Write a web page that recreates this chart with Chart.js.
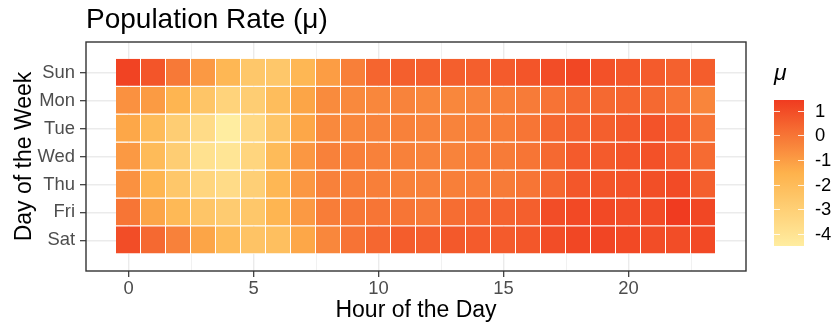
<!DOCTYPE html>
<html>
<head>
<meta charset="utf-8">
<title>Population Rate heatmap</title>
<script src="https://cdn.jsdelivr.net/npm/chart.js@4.4.0/dist/chart.umd.min.js"></script>
<style>
  html, body { margin: 0; padding: 0; background: #ffffff; }
  #wrap { width: 831px; height: 326px; }
</style>
</head>
<body>
<div id="wrap"><canvas id="heat" width="831" height="326"></canvas></div>
<script>
// Days run top to bottom, hours left to right
const days = ['Sun', 'Mon', 'Tue', 'Wed', 'Thu', 'Fri', 'Sat'];
const hours = [0, 1, 2, 3, 4, 5, 6, 7, 8, 9, 10, 11, 12, 13, 14, 15, 16, 17, 18, 19, 20, 21, 22, 23];

// mu per hour, one array per day
const rateSun = [1.25, 0.8, -0.1, -0.9, -1.8, -2.6, -2.6, -1.8, -1.0, -0.25, 0.4, 0.55, 0.55, 0.55, 0.55, 0.65, 0.8, 1.0, 1.15, 0.9, 0.75, 0.65, 0.5, 0.6];
const rateMon = [-0.7, -0.95, -1.7, -2.5, -3.2, -2.9, -2.1, -1.2, -0.55, -0.5, -0.45, -0.35, -0.45, -0.45, -0.35, -0.25, -0.15, 0.05, 0.3, 0.3, 0.4, 0.3, 0.05, -0.4];
const rateTue = [-1.25, -2.0, -2.9, -3.6, -4.5, -3.5, -2.5, -1.25, -0.5, -0.45, -0.35, -0.3, -0.35, -0.35, -0.25, -0.2, 0.0, 0.35, 0.5, 0.55, 0.7, 0.85, 0.65, 0.05];
const rateWed = [-0.9, -2.0, -2.9, -3.9, -4.1, -3.3, -2.0, -0.85, -0.3, -0.25, -0.3, -0.3, -0.35, -0.35, -0.2, -0.15, 0.0, 0.3, 0.65, 0.65, 0.8, 0.9, 0.65, 0.25];
const rateThu = [-0.7, -1.7, -2.6, -3.3, -3.6, -3.0, -1.8, -0.85, -0.3, -0.25, -0.25, -0.3, -0.3, -0.25, -0.2, -0.15, 0.0, 0.35, 0.75, 0.8, 0.85, 0.95, 1.05, 0.55];
const rateFri = [0.0, -1.2, -1.9, -2.5, -2.8, -2.6, -1.7, -0.9, -0.2, -0.05, 0.0, 0.0, -0.1, 0.2, 0.35, 0.45, 0.55, 1.0, 1.1, 1.1, 1.0, 1.05, 1.44, 1.15];
const rateSat = [1.0, 0.3, -0.3, -1.2, -2.0, -2.4, -2.2, -1.25, -0.45, 0.05, 0.35, 0.6, 0.55, 0.7, 0.65, 0.65, 0.75, 1.0, 1.15, 1.2, 1.1, 1.0, 1.0, 1.1];

const rateByDay = [rateSun, rateMon, rateTue, rateWed, rateThu, rateFri, rateSat];

// colour bar labels
const legendTicks = [1, 0, -1, -2, -3, -4];

const allRates = rateByDay.flat();
const rateMin = Math.min(...allRates);
const rateMax = Math.max(...allRates);

const FONT = "'Liberation Sans', Arial, Helvetica, sans-serif";

// light yellow -> orange -> red
const rampStops = [[255, 237, 160], [254, 178, 76], [240, 59, 32]];

function rampColor(t) {
    t = Math.max(0, Math.min(1, t));
    const seg = t < 0.5 ? 0 : 1;
    const f = seg === 0 ? t / 0.5 : (t - 0.5) / 0.5;
    const a = rampStops[seg];
    const b = rampStops[seg + 1];
    const c = a.map((x, i) => Math.round(x + (b[i] - x) * f));
    return `rgb(${c[0]},${c[1]},${c[2]})`;
}

function rateColor(v) {
    return rampColor((v - rateMin) / (rateMax - rateMin));
}

// one dataset per day, each cell is a floating bar one hour wide
const datasets = days.map((day, d) => ({
    label: day,
    data: hours.map(h => ({ x: [h - 0.5, h + 0.5], y: d })),
    backgroundColor: rateByDay[d].map(rateColor),
    borderColor: '#ffffff',
    borderWidth: { top: 0, left: 0, right: 1, bottom: 1 },
    borderSkipped: false,
    inflateAmount: 0,
    grouped: false,
    barPercentage: 1,
    categoryPercentage: 1
}));

// panel frame, titles and the colour bar
const decorations = {
    id: 'decorations',
    afterDraw(chart) {
        const ctx = chart.ctx;
        const area = chart.chartArea;
        ctx.save();

        ctx.strokeStyle = '#333333';
        ctx.lineWidth = 1.4;
        ctx.strokeRect(area.left, area.top, area.right - area.left, area.bottom - area.top);

        ctx.fillStyle = '#000000';
        ctx.font = `28px ${FONT}`;
        ctx.textAlign = 'left';
        ctx.textBaseline = 'alphabetic';
        ctx.fillText('Population Rate (\u03bc)', area.left, 27.5);

        ctx.font = `23px ${FONT}`;
        ctx.textAlign = 'center';
        ctx.fillText('Hour of the Day', (area.left + area.right) / 2, 317);

        ctx.save();
        ctx.translate(30.5, (area.top + area.bottom) / 2);
        ctx.rotate(-Math.PI / 2);
        ctx.fillText('Day of the Week', 0, 0);
        ctx.restore();

        // colour bar
        const barX = 774, barW = 30, barTop = 100, barH = 146;
        const grad = ctx.createLinearGradient(0, barTop, 0, barTop + barH);
        for (let i = 0; i <= 20; i++) {
            grad.addColorStop(i / 20, rampColor(1 - i / 20));
        }
        ctx.fillStyle = grad;
        ctx.fillRect(barX, barTop, barW, barH);

        ctx.strokeStyle = 'rgba(255,255,255,0.85)';
        ctx.lineWidth = 1;
        ctx.fillStyle = '#000000';
        ctx.font = `18.4px ${FONT}`;
        ctx.textAlign = 'left';
        ctx.textBaseline = 'middle';
        legendTicks.forEach(v => {
            const y = barTop + (rateMax - v) / (rateMax - rateMin) * barH;
            const yy = Math.round(y) + 0.5;
            ctx.beginPath();
            ctx.moveTo(barX, yy);
            ctx.lineTo(barX + 6, yy);
            ctx.moveTo(barX + barW - 6, yy);
            ctx.lineTo(barX + barW, yy);
            ctx.stroke();
            ctx.fillText(String(v), 815, y + 1);
        });

        ctx.font = `italic 23px ${FONT}`;
        ctx.textBaseline = 'alphabetic';
        ctx.fillText('\u03bc', 774, 80);

        ctx.restore();
    }
};

const tickFont = { family: FONT, size: 18.4 };

new Chart(document.getElementById('heat'), {
    type: 'bar',
    data: { datasets },
    options: {
        indexAxis: 'y',
        responsive: false,
        animation: false,
        layout: { padding: { top: 42, right: 85, bottom: 0, left: 0 } },
        plugins: {
            legend: { display: false },
            tooltip: {
                callbacks: {
                    label: c => `${days[c.datasetIndex]} ${hours[c.dataIndex]}h: ${rateByDay[c.datasetIndex][c.dataIndex]}`
                }
            }
        },
        scales: {
            x: {
                type: 'linear',
                min: -1.7,
                max: 24.7,
                offset: false,
                afterBuildTicks: s => {
                    s.ticks = [0, 2.5, 5, 7.5, 10, 12.5, 15, 17.5, 20, 22.5].map(v => ({ value: v }));
                },
                afterFit: s => { s.height = 55; },
                ticks: {
                    autoSkip: false,
                    maxRotation: 0,
                    padding: 1,
                    color: '#4d4d4d',
                    font: tickFont,
                    callback: v => (v % 5 === 0 ? String(v) : '')
                },
                grid: {
                    offset: false,
                    color: '#ebebeb',
                    lineWidth: c => (c.tick && c.tick.value % 5 === 0 ? 1.4 : 0.7),
                    tickColor: c => (c.tick && c.tick.value % 5 === 0 ? '#333333' : 'rgba(0,0,0,0)'),
                    tickWidth: 1.2,
                    tickLength: 6
                },
                border: { display: false }
            },
            y: {
                type: 'linear',
                reverse: true,
                min: -1.1,
                max: 7.1,
                offset: false,
                afterBuildTicks: s => {
                    s.ticks = days.map((d, i) => ({ value: i }));
                },
                afterFit: s => { s.width = 86; },
                ticks: {
                    autoSkip: false,
                    padding: 5,
                    color: '#4d4d4d',
                    font: tickFont,
                    callback: v => days[v]
                },
                grid: {
                    offset: false,
                    color: '#ebebeb',
                    lineWidth: 1.4,
                    tickColor: '#333333',
                    tickWidth: 1.2,
                    tickLength: 6
                },
                border: { display: false }
            }
        }
    },
    plugins: [decorations]
});
</script>
</body>
</html>
